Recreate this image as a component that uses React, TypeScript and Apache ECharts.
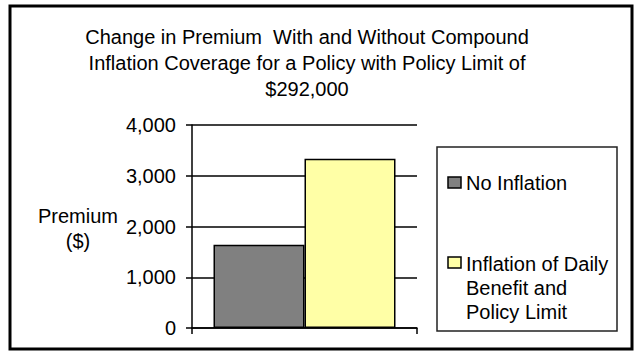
import React, { useEffect, useRef } from "react";
import * as echarts from "echarts";

const categories = [""];
const seriesNames = ["No Inflation", "Inflation of Daily\nBenefit and\nPolicy Limit"];
const noInflation = [1640];
const withInflation = [3335];
const yTicks = [0, 1000, 2000, 3000, 4000];
const titleLines = [
  "Change in Premium  With and Without Compound",
  "Inflation Coverage for a Policy with Policy Limit of",
  "$292,000",
];
const yAxisTitle = ["Premium", "($)"];
const seriesColors = ["#808080", "#FFFFA6"];

const FONT = "'Liberation Sans', Arial, sans-serif";

export default function App() {
  const ref = useRef<HTMLDivElement>(null);
  useEffect(() => {
    if (!ref.current) return;
    const chart = echarts.init(ref.current, undefined, { renderer: "svg" });
    const option: any = {
      animation: false,
      backgroundColor: "#ffffff",
      textStyle: { fontFamily: FONT },
      grid: { left: 192, top: 125, width: 225, height: 203, containLabel: false },
      xAxis: {
        type: "category",
        data: categories,
        boundaryGap: true,
        axisLine: { show: true, lineStyle: { color: "#000", width: 1.5 } },
        axisTick: { show: true, length: 6, lineStyle: { color: "#000", width: 1.5 } },
        axisLabel: { show: false },
        splitLine: { show: false },
      },
      yAxis: {
        type: "value",
        min: yTicks[0],
        max: yTicks[yTicks.length - 1],
        interval: 1000,
        axisLine: { show: true, lineStyle: { color: "#000", width: 1.5 } },
        axisTick: { show: true, length: 6, lineStyle: { color: "#000", width: 1.5 } },
        axisLabel: {
          margin: 16,
          color: "#000",
          fontSize: 20,
          fontFamily: FONT,
          formatter: (v: number) => v.toLocaleString("en-US"),
        },
        splitLine: { show: true, lineStyle: { color: "#000", width: 1.5 } },
      },
      series: [
        {
          name: seriesNames[0],
          type: "bar",
          data: noInflation,
          barWidth: 91,
          barGap: "0%",
          itemStyle: { color: seriesColors[0], borderColor: "#000", borderWidth: 1.5 },
        },
        {
          name: seriesNames[1],
          type: "bar",
          data: withInflation,
          barWidth: 91,
          barGap: "0%",
          itemStyle: { color: seriesColors[1], borderColor: "#000", borderWidth: 1.5 },
        },
      ],
      graphic: [
        {
          type: "rect",
          shape: { x: 10, y: 6, width: 622, height: 343 },
          style: { fill: "none", stroke: "#000", lineWidth: 3 },
          silent: true,
        },
        {
          type: "text",
          x: 307,
          y: 24,
          style: {
            text: titleLines.join("\n"),
            font: `20px ${FONT}`,
            fill: "#000",
            align: "center",
            verticalAlign: "top",
            lineHeight: 26,
          },
        },
        {
          type: "text",
          x: 78,
          y: 203,
          style: {
            text: yAxisTitle.join("\n"),
            font: `20px ${FONT}`,
            fill: "#000",
            align: "center",
            verticalAlign: "top",
            lineHeight: 25,
          },
        },
        {
          type: "rect",
          shape: { x: 437, y: 147, width: 180, height: 184 },
          style: { fill: "#fff", stroke: "#222", lineWidth: 1.5 },
          z: -1,
        },
        {
          type: "rect",
          shape: { x: 448, y: 177, width: 13, height: 11 },
          style: { fill: seriesColors[0], stroke: "#000", lineWidth: 1.5 },
        },
        {
          type: "text",
          x: 466,
          y: 171.5,
          style: {
            text: seriesNames[0],
            font: `20px ${FONT}`,
            fill: "#000",
            align: "left",
            verticalAlign: "top",
            lineHeight: 23,
          },
        },
        {
          type: "rect",
          shape: { x: 448, y: 257, width: 13, height: 11 },
          style: { fill: seriesColors[1], stroke: "#000", lineWidth: 1.5 },
        },
        {
          type: "text",
          x: 466,
          y: 251.5,
          style: {
            text: seriesNames[1],
            font: `20px ${FONT}`,
            fill: "#000",
            align: "left",
            verticalAlign: "top",
            lineHeight: 24,
          },
        },
      ],
    };
    chart.setOption(option);
    return () => chart.dispose();
  }, []);
  return (
    <div
      ref={ref}
      style={{ position: "fixed", left: 0, top: 0, width: 639, height: 362 }}
    />
  );
}
